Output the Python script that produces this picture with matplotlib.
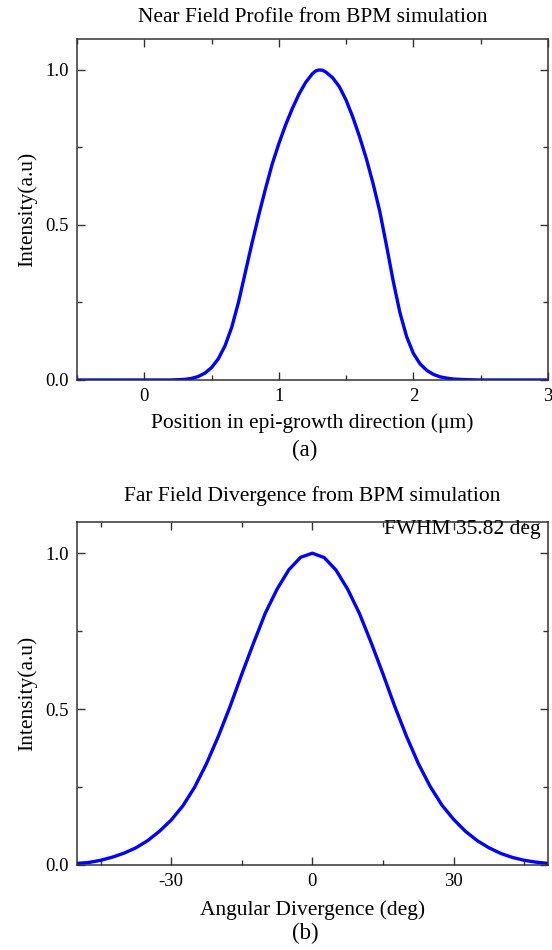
import matplotlib
matplotlib.use("Agg")
import matplotlib.pyplot as plt
from matplotlib.ticker import MultipleLocator

plt.rcParams['font.family'] = ['Liberation Serif', 'DejaVu Serif']
plt.rcParams['axes.unicode_minus'] = False

# near field profile
nf_pos = [-0.5, -0.25, 0.0, 0.1, 0.2, 0.25, 0.3, 0.35, 0.4, 0.45, 0.5, 0.55, 0.6,
          0.65, 0.7, 0.75, 0.8, 0.85, 0.9, 0.95, 1.0, 1.05, 1.1, 1.15, 1.2,
          1.25, 1.275, 1.3, 1.325, 1.35, 1.4, 1.45, 1.5, 1.55, 1.6, 1.65, 1.7, 1.75, 1.8,
          1.85, 1.9, 1.95, 2.0, 2.05, 2.1, 2.15, 2.2, 2.25, 2.3, 2.4, 2.5,
          2.75, 3.0]
nf_int = [0.0, 0.0, 0.0, 0.0, 0.0, 0.001, 0.002, 0.005, 0.011, 0.022, 0.040, 0.068, 0.110,
          0.170, 0.250, 0.345, 0.440, 0.530, 0.615, 0.695, 0.762, 0.822, 0.875, 0.922, 0.960,
          0.988, 0.997, 1.000, 0.999, 0.993, 0.975, 0.946, 0.903, 0.848, 0.785, 0.715, 0.635,
          0.545, 0.435, 0.320, 0.218, 0.140, 0.086, 0.052, 0.031, 0.018, 0.010, 0.006, 0.003,
          0.001, 0.0, 0.0, 0.0]

# far field divergence
ff_ang = [-50, -47.5, -45, -42.5, -40, -37.5, -35, -32.5, -30, -27.5, -25, -22.5, -20,
          -17.5, -15, -12.5, -10, -7.5, -5, -2.5, 0, 2.5, 5, 7.5, 10, 12.5, 15, 17.5,
          20, 22.5, 25, 27.5, 30, 32.5, 35, 37.5, 40, 42.5, 45, 47.5, 50]
ff_int = [0.005, 0.008, 0.015, 0.025, 0.038, 0.055, 0.078, 0.108, 0.144, 0.190, 0.250, 0.325, 0.412,
          0.508, 0.612, 0.712, 0.808, 0.885, 0.947, 0.987, 1.000, 0.986, 0.946, 0.884, 0.806,
          0.712, 0.612, 0.508, 0.412, 0.325, 0.252, 0.192, 0.146, 0.108, 0.078, 0.055, 0.037,
          0.024, 0.015, 0.009, 0.005]

fig = plt.figure(figsize=(5.52, 9.5), dpi=100)
ax1 = fig.add_axes([0.1395, 0.600, 0.853, 0.359])
ax2 = fig.add_axes([0.1395, 0.0895, 0.853, 0.361])


def style(ax):
    ax.tick_params(which='both', direction='in', top=True, right=True, labelsize=13.5,
                   color='#333333', pad=6)
    ax.tick_params(which='major', length=6, width=1.0)
    ax.tick_params(which='minor', length=3.5, width=1.0)
    for s in ax.spines.values():
        s.set_linewidth(1.1)
        s.set_color('#333333')
    ax.set_ylim(0, 1.1)
    ax.yaxis.set_major_locator(MultipleLocator(0.5))
    ax.yaxis.set_minor_locator(MultipleLocator(0.25))
    ax.set_ylabel('Intensity(a.u)', fontsize=15.5, labelpad=6)


ax1.plot(nf_pos, nf_int, color='#0000ff', lw=2.4)
style(ax1)
ax1.set_xlim(-0.5, 3)
ax1.xaxis.set_major_locator(MultipleLocator(1))
ax1.xaxis.set_minor_locator(MultipleLocator(0.5))
ax1.set_title('Near Field Profile from BPM simulation', fontsize=15.5, pad=12)
ax1.set_xlabel('Position in epi-growth direction (\u03bcm)', fontsize=15.5, labelpad=6)

ax2.plot(ff_ang, ff_int, color='#0000ff', lw=2.4)
style(ax2)
ax2.set_xlim(-50, 50)
ax2.xaxis.set_major_locator(MultipleLocator(30))
ax2.xaxis.set_minor_locator(MultipleLocator(15))
ax2.set_title('Far Field Divergence from BPM simulation', fontsize=15.5, pad=15)
ax2.set_xlabel('Angular Divergence (deg)', fontsize=15.5, labelpad=7)
ax2.text(0.985, 1.005, 'FWHM 35.82 deg', transform=ax2.transAxes, ha='right', va='top',
         fontsize=15.5)

fig.text(305 / 552, 1 - 450 / 950, '(a)', ha='center', va='center', fontsize=16.5)
fig.text(305 / 552, 1 - 933 / 950, '(b)', ha='center', va='center', fontsize=16.5)

fig.savefig('out.png', dpi=100)
